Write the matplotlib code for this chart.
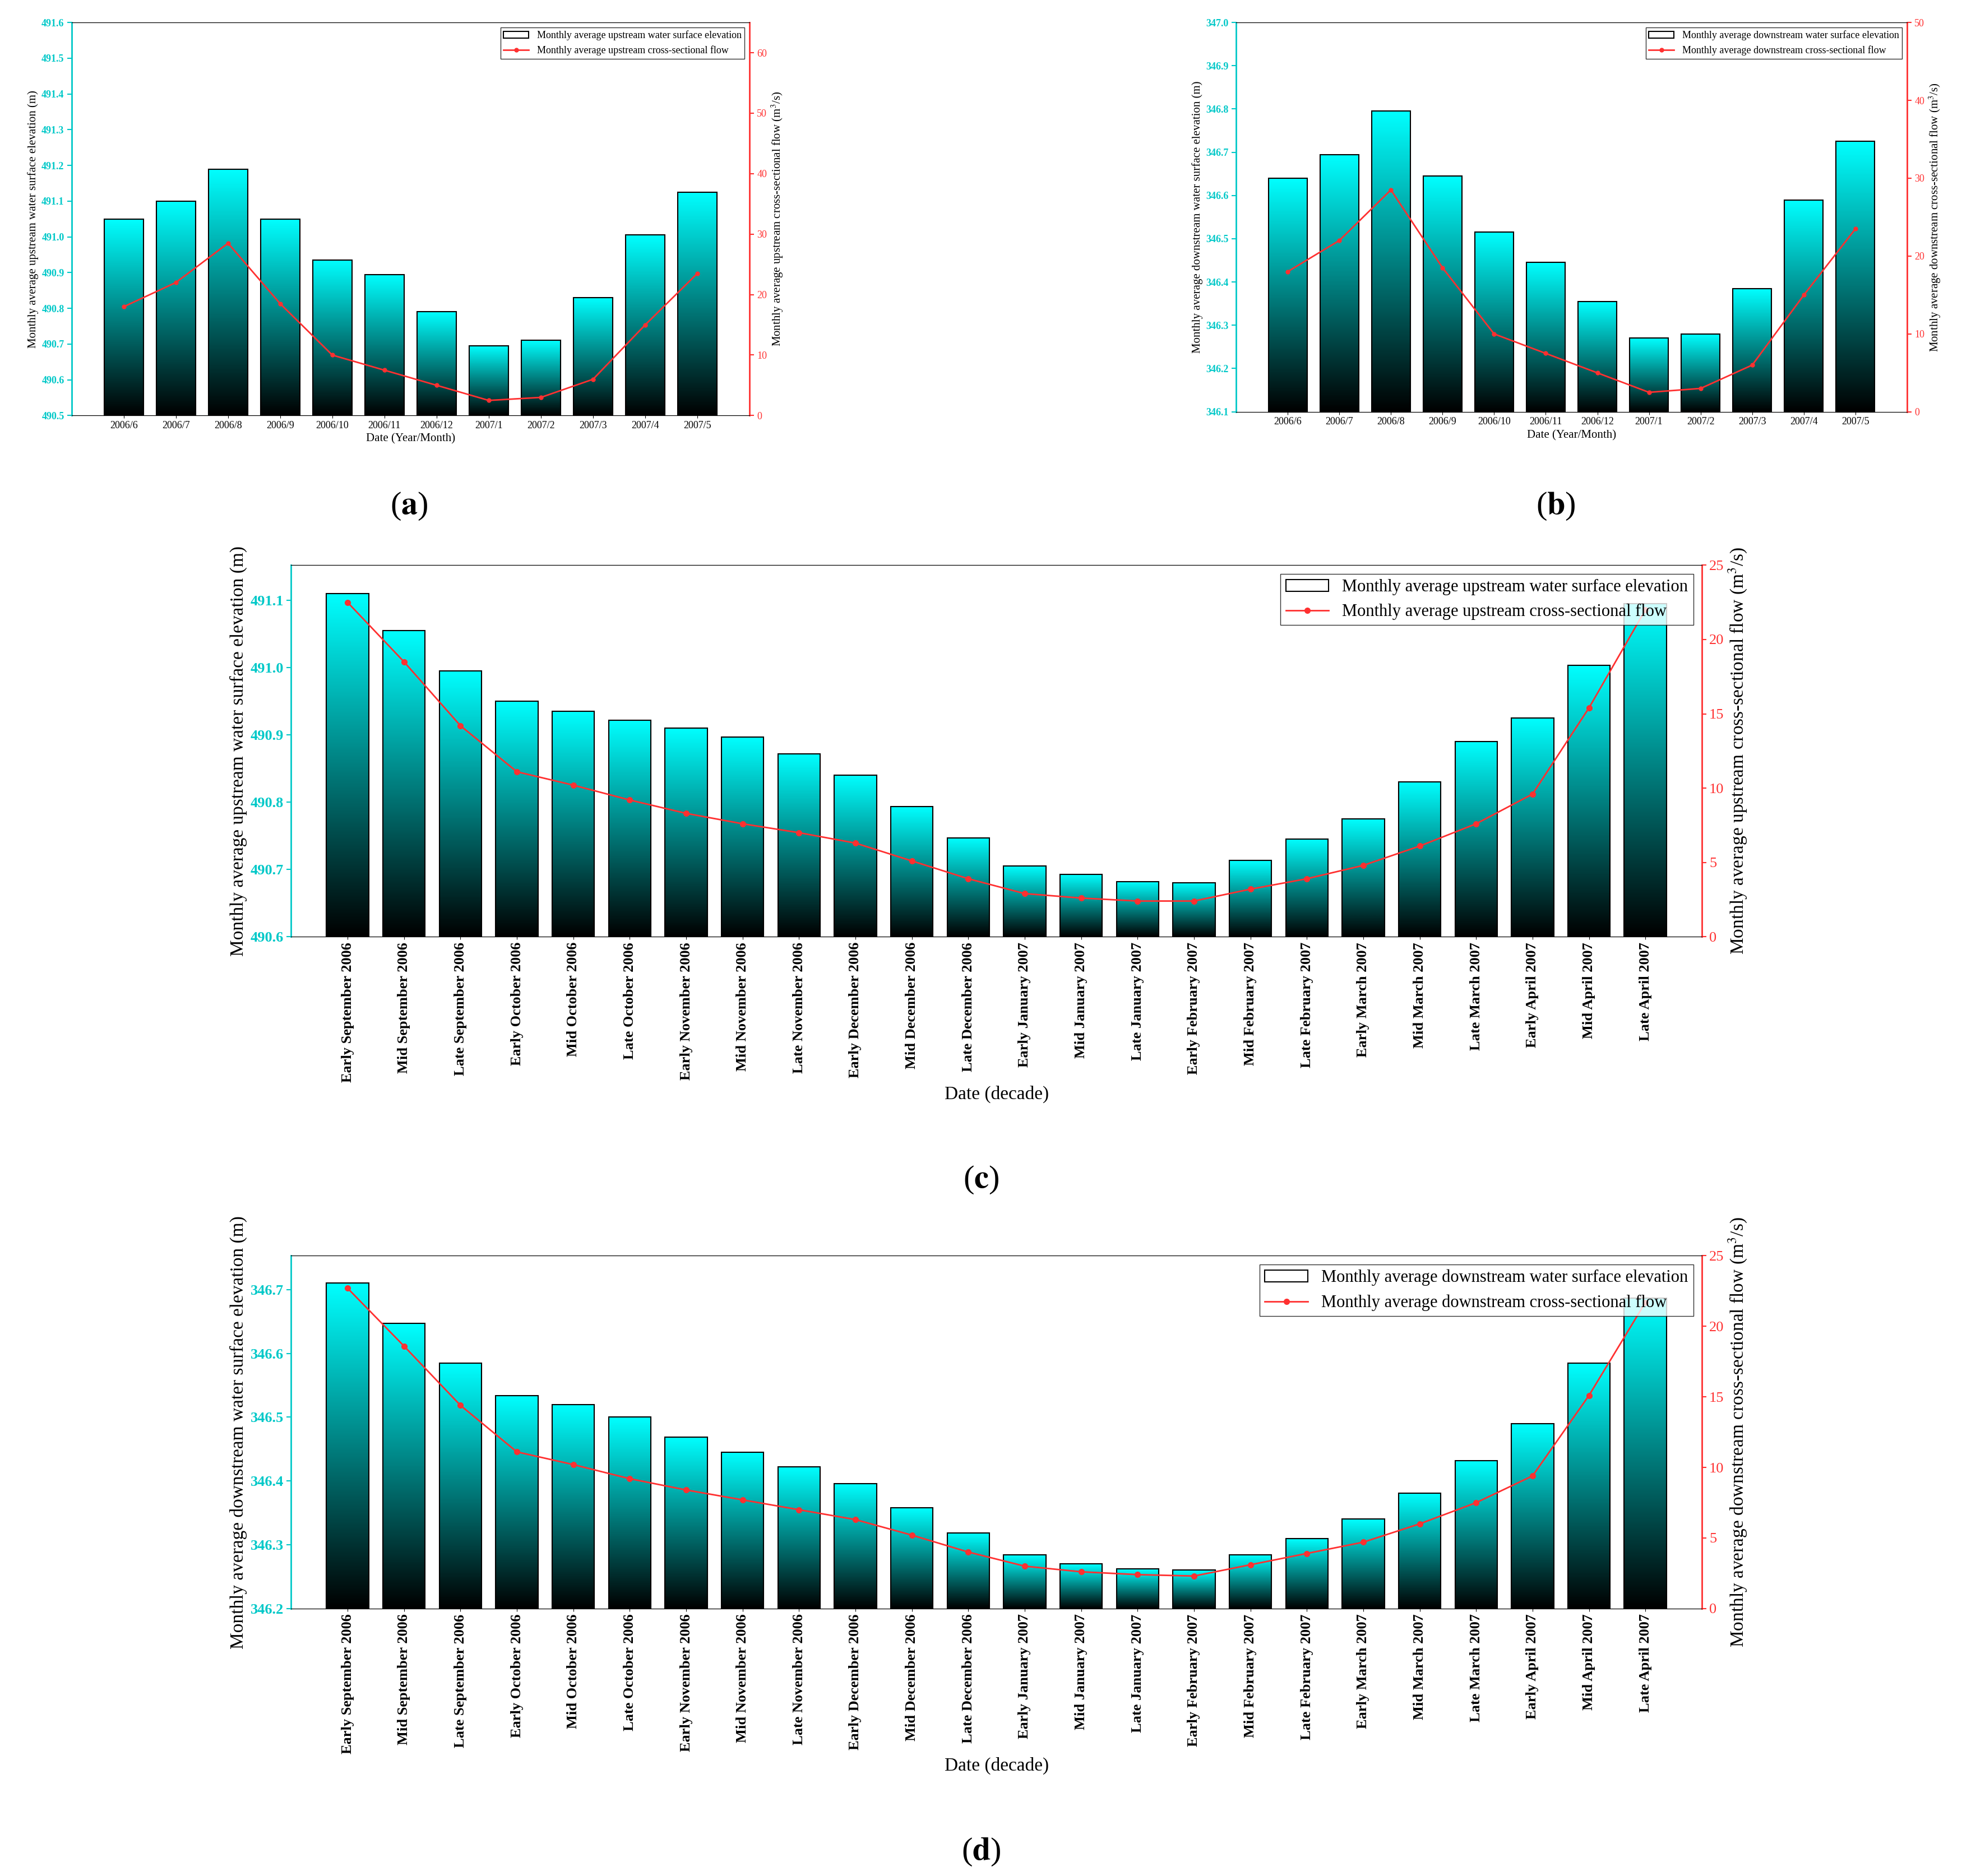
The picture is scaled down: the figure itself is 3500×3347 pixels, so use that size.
import matplotlib
matplotlib.use("Agg")
import matplotlib.pyplot as plt
import numpy as np
from matplotlib.colors import LinearSegmentedColormap

plt.rcParams["font.family"] = "Liberation Serif"
plt.rcParams["mathtext.fontset"] = "stix"

months = ["2006/6","2006/7","2006/8","2006/9","2006/10","2006/11","2006/12","2007/1","2007/2","2007/3","2007/4","2007/5"]
a_elev = [491.05,491.10,491.19,491.05,490.935,490.895,490.79,490.695,490.71,490.83,491.005,491.125]
a_flow = [18,22,28.5,18.5,10,7.5,5,2.5,3,6,15,23.5]
b_elev = [346.64,346.695,346.795,346.645,346.515,346.445,346.355,346.27,346.28,346.385,346.59,346.725]
b_flow = [18,22,28.5,18.5,10,7.5,5,2.5,3,6,15,23.5]

decades = ["Early September 2006","Mid September 2006","Late September 2006","Early October 2006","Mid October 2006",
           "Late October 2006","Early November 2006","Mid November 2006","Late November 2006","Early December 2006",
           "Mid December 2006","Late December 2006","Early January 2007","Mid January 2007","Late January 2007",
           "Early February 2007","Mid February 2007","Late February 2007","Early March 2007","Mid March 2007",
           "Late March 2007","Early April 2007","Mid April 2007","Late April 2007"]
c_elev = [491.11,491.055,490.995,490.95,490.935,490.922,490.91,490.897,490.872,490.84,490.793,490.747,490.705,
          490.693,490.682,490.68,490.713,490.745,490.775,490.83,490.89,490.925,491.003,491.095]
c_flow = [22.5,18.5,14.2,11.1,10.2,9.2,8.3,7.6,7.0,6.3,5.1,3.9,2.9,2.6,2.4,2.4,3.2,3.9,4.8,6.1,7.6,9.6,15.4,22.0]
d_elev = [346.71,346.647,346.585,346.534,346.52,346.5,346.469,346.445,346.422,346.396,346.358,346.318,346.284,
          346.27,346.262,346.26,346.284,346.31,346.34,346.381,346.432,346.49,346.585,346.687]
d_flow = [22.7,18.6,14.4,11.1,10.2,9.2,8.4,7.7,7.0,6.3,5.2,4.0,3.0,2.6,2.4,2.3,3.1,3.9,4.7,6.0,7.5,9.4,15.1,21.7]

CY = "#00c8c8"
RED = "#ff3030"
cmap = LinearSegmentedColormap.from_list("g", ["#000000", "#00ffff"])
grad = np.linspace(0, 1, 256).reshape(-1, 1)

fig = plt.figure(figsize=(35, 33.47), dpi=100)

def panel(rect, cats, elev, flow, ylim, yticks, rlim, rticks, ylab, rlab, leg1, leg2, xlab, fs, rot, legfs, lfs):
    ax = fig.add_axes(rect)
    x = np.arange(len(cats))
    bars = ax.bar(x, [e - ylim[0] for e in elev], bottom=ylim[0], width=0.75,
                  facecolor="none", edgecolor="black", linewidth=1.5, label=leg1, zorder=3)
    for b in bars:
        x0, w, h = b.get_x(), b.get_width(), b.get_height()
        im = ax.imshow(grad, cmap=cmap, aspect="auto", origin="lower",
                       extent=[x0, x0 + w, ylim[0], ylim[0] + h], zorder=2)
        im.set_clip_path(b)
    ax.set_xlim(-1, len(cats))
    ax.set_ylim(*ylim)
    ax.set_yticks(yticks)
    ax.set_yticklabels([f"{t:.1f}" for t in yticks], color=CY, fontweight="bold", fontsize=fs)
    ax.set_xticks(x)
    if rot:
        ax.set_xticklabels(cats, rotation=90, fontweight="bold", fontsize=fs)
    else:
        ax.set_xticklabels(cats, fontsize=fs)
    ax.spines["left"].set_color(CY)
    ax.spines["left"].set_linewidth(2)
    ax.tick_params(axis="y", colors=CY, length=6, width=1.5)
    ax.set_ylabel(ylab, fontsize=lfs)
    ax.set_xlabel(xlab, fontsize=lfs)
    ax2 = ax.twinx()
    ax2.plot(x, flow, "-o", color=RED, markersize=5 if not rot else 7, linewidth=2, label=leg2)
    ax2.set_ylim(*rlim)
    ax2.set_yticks(rticks)
    ax2.set_yticklabels([str(t) for t in rticks], color=RED, fontsize=fs)
    ax2.spines["right"].set_color(RED)
    ax2.spines["right"].set_linewidth(2)
    ax2.spines["left"].set_visible(False)
    ax2.tick_params(axis="y", colors=RED, length=6, width=1.5)
    ax2.set_ylabel(rlab, fontsize=lfs)
    h1, l1 = ax.get_legend_handles_labels()
    h2, l2 = ax2.get_legend_handles_labels()
    ax2.legend(h1 + h2, l1 + l2, loc="upper right", fontsize=legfs, fancybox=False,
               edgecolor="black", borderpad=0.3, handlelength=2.5)
    return ax

rl_up = "Monthly average upstream cross-sectional flow (m$^3$/s)"
rl_dn = "Monthly average downstream cross-sectional flow (m$^3$/s)"

panel([0.0365, 0.7785, 0.3455, 0.2095], months, a_elev, a_flow, (490.5, 491.6),
      np.round(np.arange(490.5, 491.61, 0.1), 1), (0, 65), list(range(0, 61, 10)),
      "Monthly average upstream water surface elevation (m)", rl_up,
      "Monthly average upstream water surface elevation", "Monthly average upstream cross-sectional flow",
      "Date (Year/Month)", 13, False, 13, 15)
panel([0.630, 0.7805, 0.342, 0.2075], months, b_elev, b_flow, (346.1, 347.0),
      np.round(np.arange(346.1, 347.01, 0.1), 1), (0, 50), list(range(0, 51, 10)),
      "Monthly average downstream water surface elevation (m)", rl_dn,
      "Monthly average downstream water surface elevation", "Monthly average downstream cross-sectional flow",
      "Date (Year/Month)", 13, False, 13, 15)
panel([0.1484, 0.5007, 0.719, 0.198], decades, c_elev, c_flow, (490.6, 491.152),
      np.round(np.arange(490.6, 491.11, 0.1), 1), (0, 25), list(range(0, 26, 5)),
      "Monthly average upstream water surface elevation (m)", rl_up,
      "Monthly average upstream water surface elevation", "Monthly average upstream cross-sectional flow",
      "Date (decade)", 19, True, 22, 24)
panel([0.1484, 0.1426, 0.719, 0.188], decades, d_elev, d_flow, (346.2, 346.753),
      np.round(np.arange(346.2, 346.71, 0.1), 1), (0, 25), list(range(0, 26, 5)),
      "Monthly average downstream water surface elevation (m)", rl_dn,
      "Monthly average downstream water surface elevation", "Monthly average downstream cross-sectional flow",
      "Date (decade)", 19, True, 22, 24)

for lab, xx, yy in [("a", 0.2086, 0.730), ("b", 0.793, 0.730), ("c", 0.5, 0.371), ("d", 0.5, 0.0127)]:
    fig.text(xx, yy, f"($\\mathbf{{{lab}}}$)", fontsize=42, ha="center", va="center")

fig.savefig("out.png", dpi=100)
